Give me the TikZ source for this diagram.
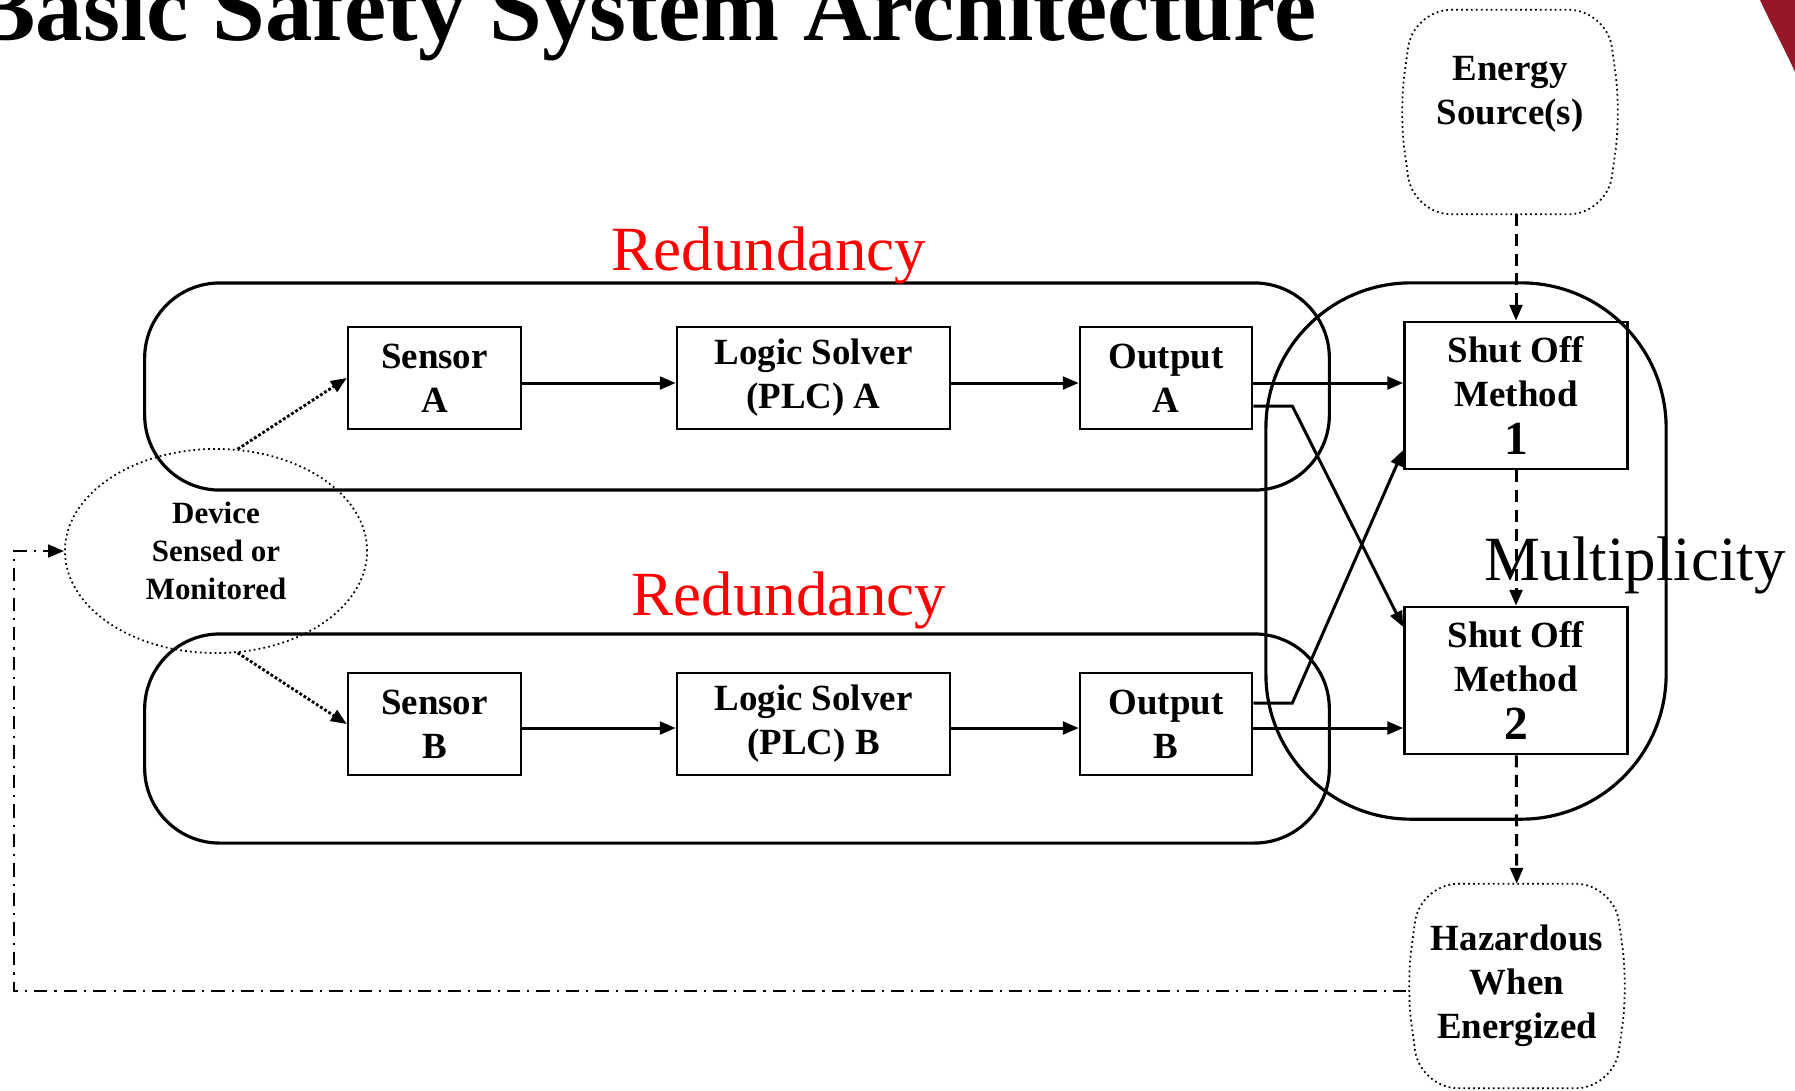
\documentclass[tikz,border=0pt]{standalone}
\usepackage{fontspec}
\setmainfont{Liberation Serif}
\usetikzlibrary{arrows.meta, shapes.geometric, positioning}

\definecolor{slidered}{RGB}{150,22,42}
\newcommand{\boxfont}{\bfseries\fontsize{10.5}{12.5}\selectfont}
\newcommand{\devfont}{\bfseries\fontsize{8.8}{10.8}\selectfont}
\newcommand{\shutnum}{\fontsize{13.5}{14}\selectfont}
\newcommand{\labelfont}{\fontsize{17.9}{20}\selectfont}
\newcommand{\titlefont}{\bfseries\fontsize{27}{30}\selectfont}

\begin{document}
\begin{tikzpicture}[x=0.01cm, y=-0.01cm,
    blockbox/.style={rectangle, draw=black, line width=0.7pt, align=center, font=\boxfont, minimum height=1.02cm, inner sep=0pt},
    shutbox/.style={blockbox, minimum width=2.23cm, minimum height=1.47cm},
    dotborder/.style={draw=black, line width=0.5pt, dash pattern=on 0.5pt off 0.9pt},
    sourcebox/.style={rectangle, align=center, font=\boxfont, minimum width=2.2cm, minimum height=2.03cm, inner sep=0pt},
    groupbox/.style={rectangle, draw=black, line width=0.9pt, inner sep=0pt},
    redlabel/.style={text=red, font=\labelfont, anchor=base, inner sep=0pt},
    flow/.style={-{Triangle[length=4.5pt,width=3.6pt]}, line width=0.85pt},
    dashflow/.style={flow, dash pattern=on 3.4pt off 2.2pt},
    dotflow/.style={flow, line width=0.8pt, dash pattern=on 0.8pt off 0.6pt},
    fbflow/.style={flow, line width=0.7pt, dash pattern=on 3.8pt off 2pt on 0.6pt off 2pt}]
    \useasboundingbox (0,0) rectangle (1795,1090);
    % slide corner
    \fill[slidered] (1760,0) .. controls (1772,26) and (1784,48) .. (1795,72) -- (1795,0) -- cycle;
    \node[anchor=base east, font=\titlefont, inner sep=0pt] (title) at (1317,40) {Basic Safety System Architecture};

    % redundancy groups and multiplicity group
    \node[groupbox, minimum width=11.84cm, minimum height=2.07cm, rounded corners=0.75cm] (grpA) at (737,386.5) {};
    \node[groupbox, minimum width=11.84cm, minimum height=2.09cm, rounded corners=0.75cm] (grpB) at (737,738.5) {};
    \node[groupbox, minimum width=4cm, minimum height=5.36cm, rounded corners=1.45cm] (grpM) at (1466,551) {};
    \node[redlabel] (redA) at (769,270) {Redundancy};
    \node[redlabel] (redB) at (789,615) {Redundancy};
    \node[anchor=base, font=\labelfont, inner sep=0pt] (multi) at (1635,580) {Multiplicity};

    % channel A
    \node[blockbox, minimum width=1.73cm] (sensA) at (434.5,378) {Sensor\\A};
    \node[blockbox, minimum width=2.73cm] (logA) at (813.5,378) {Logic Solver\\(PLC) A};
    \node[blockbox, minimum width=1.72cm] (outA) at (1166,378) {Output\\A};
    % channel B
    \node[blockbox, minimum width=1.73cm] (sensB) at (434.5,724) {Sensor\\B};
    \node[blockbox, minimum width=2.73cm] (logB) at (813.5,724) {Logic Solver\\(PLC) B};
    \node[blockbox, minimum width=1.72cm] (outB) at (1166,724) {Output\\B};

    \node[shutbox] (shut1) at (1516,395.5) {Shut Off\\Method\\[1.2pt]{\shutnum 1}};
    \node[shutbox] (shut2) at (1516,680.5) {Shut Off\\Method\\[1.2pt]{\shutnum 2}};
    \node[sourcebox] (energy) at (1510,112) {Energy\\Source(s)\\~};
    \node[sourcebox] (hazard) at (1517,986) {Hazardous\\When\\Energized};
    \foreach \bx in {energy, hazard}
        \draw[dotborder, rounded corners=0.38cm] ([xshift=0.14cm]\bx.north west) -- ([xshift=-0.14cm]\bx.north east) -- (\bx.east)
            -- ([xshift=-0.14cm]\bx.south east) -- ([xshift=0.14cm]\bx.south west) -- (\bx.west) -- cycle;
    \node[ellipse, dotborder, align=center, font=\devfont, minimum width=3.02cm, minimum height=2.04cm, inner sep=0pt] (device) at (216,551) {Device\\Sensed or\\Monitored};
    \coordinate (fbx) at (14,0);

    \draw[flow] ([yshift=-0.05cm]sensA.east) -- ([yshift=-0.05cm]logA.west);
    \draw[flow] ([yshift=-0.05cm]logA.east) -- ([yshift=-0.05cm]outA.west);
    \draw[flow] ([yshift=-0.05cm]outA.east) -- ([yshift=-0.05cm]outA.east -| shut1.west);
    \draw[flow] ([yshift=-0.04cm]sensB.east) -- ([yshift=-0.04cm]logB.west);
    \draw[flow] ([yshift=-0.04cm]logB.east) -- ([yshift=-0.04cm]outB.west);
    \draw[flow] ([yshift=-0.04cm]outB.east) -- ([yshift=-0.04cm]outB.east -| shut2.west);
    % cross connections
    \draw[flow] ([yshift=-0.28cm]outA.east) -- ([xshift=0.39cm, yshift=-0.28cm]outA.east) -- ([yshift=0.535cm]shut2.west);
    \draw[flow] ([yshift=0.21cm]outB.east) -- ([xshift=0.39cm, yshift=0.21cm]outB.east) -- ([yshift=-0.545cm]shut1.west);

    \draw[dashflow] (energy.south -| shut1.north) -- (shut1.north);
    \draw[dashflow] (shut1) -- (shut2);
    \draw[dashflow] (shut2) -- (hazard);

    \draw[dotflow] (device.78) -- (sensA.west);
    \draw[dotflow] (device.-78) -- (sensB.west);
    \draw[fbflow] ([yshift=-0.05cm]hazard.west) -- ([yshift=-0.05cm]hazard.west -| fbx) |- (device.west);
\end{tikzpicture}
\end{document}
